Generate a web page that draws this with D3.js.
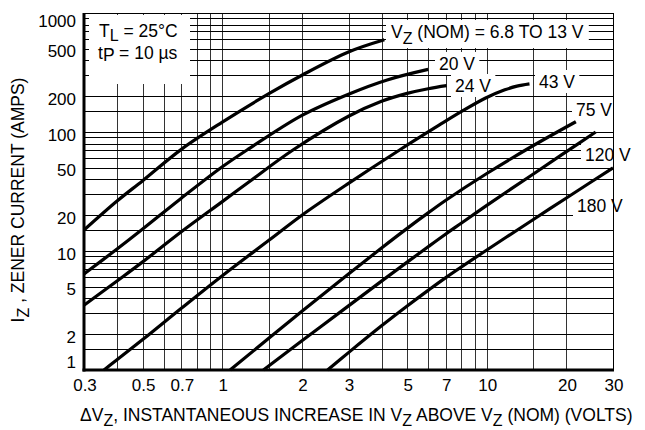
<!DOCTYPE html>
<html>
<head>
<meta charset="utf-8">
<script src="https://cdn.jsdelivr.net/npm/d3@7"></script>
<style>
  body { margin: 0; background: #fff; }
  text { font-family: "Liberation Sans", Arial, sans-serif; fill: #000; }
</style>
</head>
<body>
<script>
// tick labels and gridlines
var xTicks = [0.3, 0.5, 0.7, 1, 2, 3, 5, 7, 10, 20, 30];
var yTicks = [1, 2, 5, 10, 20, 50, 100, 200, 500, 1000];
var xGrid = [0.3, 0.4, 0.5, 0.6, 0.7, 0.8, 0.9, 1, 1.5, 2, 3, 4, 5, 6, 7, 8, 9, 10, 15, 20, 30];
var yGrid = [1, 1.5, 2, 3, 4, 5, 6, 7, 8, 9, 10, 15, 20, 30, 40, 50, 60, 70, 80, 90,
             100, 150, 200, 300, 400, 500, 600, 700, 800, 900, 1000];

// curves: delta Vz (volts) vs Iz (amps)
var dv_13 = [0.3, 0.4, 0.5, 0.7, 1, 1.5, 2, 3, 4.1];
var iz_13 = [15, 26.3, 39, 71.5, 121, 210, 300, 470, 595];
var dv_20 = [0.3, 0.4, 0.5, 0.7, 1, 1.24, 2, 3, 4.2, 6];
var iz_20 = [6.4, 10.4, 15.3, 27.8, 51, 70.6, 138, 208, 274, 336];
var dv_24 = [0.3, 0.4, 0.5, 0.7, 1, 1.26, 1.85, 3, 4, 5, 6, 7.05];
var iz_24 = [3.5, 5.6, 8.1, 14.5, 26, 38, 70.6, 135.6, 181, 211, 231, 245];
var dv_43 = [0.357, 0.5, 0.7, 1, 1.5, 2, 3, 4.68, 6.6, 8, 9.9, 11.7, 13, 14.5];
var iz_43 = [1, 1.8, 3.3, 6.2, 12.3, 20, 37, 70.6, 114, 148, 193, 226, 243, 254];
var dv_75 = [1.07, 2, 3, 4, 5, 6, 7, 10, 15, 21.7];
var iz_75 = [1, 3.12, 6.4, 10.6, 15.5, 20.9, 26.7, 44.8, 77, 122];
var dv_120 = [1.43, 2, 3, 4, 5, 6, 7, 8, 10, 15, 20, 25.8];
var iz_120 = [1, 1.76, 3.46, 5.58, 8.06, 10.85, 13.9, 17.1, 24.2, 44.4, 68.4, 100];
var dv_180 = [2.5, 3, 4, 5, 6, 7, 10, 15, 20, 30];
var iz_180 = [1, 1.4, 2.35, 3.45, 4.67, 5.98, 10.2, 18.4, 27.9, 50];

var curves = [
  {dv: dv_13, iz: iz_13},
  {dv: dv_20, iz: iz_20},
  {dv: dv_24, iz: iz_24},
  {dv: dv_43, iz: iz_43},
  {dv: dv_75, iz: iz_75},
  {dv: dv_120, iz: iz_120},
  {dv: dv_180, iz: iz_180}
];

var width = 645, height = 430;
var plot = {left: 84, right: 613, top: 13, bottom: 370};

var svg = d3.select("body").append("svg")
  .attr("width", width)
  .attr("height", height);

var x = d3.scaleLog().domain([0.3, 30]).range([plot.left, plot.right]);
var y = d3.scaleLog().domain([1, 1000]).range([plot.bottom, plot.top]);

// grid
var grid = svg.append("g").attr("shape-rendering", "crispEdges");
grid.selectAll(".vg").data(xGrid).enter().append("line")
  .attr("x1", d => Math.round(x(d)) + 0.5).attr("x2", d => Math.round(x(d)) + 0.5)
  .attr("y1", plot.top).attr("y2", plot.bottom)
  .attr("stroke", "#333").attr("stroke-width", 1);
grid.selectAll(".hg").data(yGrid).enter().append("line")
  .attr("x1", plot.left).attr("x2", plot.right)
  .attr("y1", d => Math.round(y(d)) + 0.5).attr("y2", d => Math.round(y(d)) + 0.5)
  .attr("stroke", "#000").attr("stroke-width", 1);

var boxes = svg.append("g");
var curveG = svg.append("g");
var labels = svg.append("g");

// conditions box
boxes.append("rect").attr("x", 89).attr("y", 15).attr("width", 101).attr("height", 69).attr("fill", "#fff");

function richText(parent, px, py, parts, size, anchor) {
  var t = parent.append("text")
    .attr("x", px).attr("y", py)
    .attr("font-size", size)
    .attr("text-anchor", anchor || "start");
  parts.forEach(function(p) {
    var s = t.append("tspan").text(p[0]);
    if (p[1]) s.attr("dy", p[1]);
    if (p[2]) s.attr("font-size", p[2]);
  });
  return t;
}

function boxed(px, py, parts, size, pad) {
  var t = richText(labels, px, py, parts, size);
  var b = t.node().getBBox();
  boxes.append("rect")
    .attr("x", b.x - pad).attr("y", b.y - 2)
    .attr("width", b.width + 2 * pad).attr("height", b.height + 3)
    .attr("fill", "#fff");
  return t;
}

richText(labels, 99, 37, [["T"], ["L", 4, 16], [" = 25°C", -4, 17.5]], 17.5);
richText(labels, 98, 59, [["t"], ["P", 2], [" = 10 µs", -2]], 17.5);

boxed(391, 38, [["V"], ["Z", 6, 16], [" (NOM) = 6.8 TO 13 V", -6, 17.5]], 17.5, 5);
boxed(439, 70, [["20 V"]], 17.5, 4);
boxed(455, 92, [["24 V"]], 17.5, 4);
boxed(539, 88, [["43 V"]], 17.5, 4);
boxed(576, 116, [["75 V"]], 17.5, 4);
boxed(585, 161, [["120 V"]], 17.5, 4);
boxed(577, 212, [["180 V"]], 17.5, 4);

// curves
var line = d3.line()
  .x(d => x(d[0]))
  .y(d => y(d[1]))
  .curve(d3.curveCatmullRom.alpha(0.5));

curveG.selectAll("path").data(curves).enter().append("path")
  .attr("d", c => line(c.dv.map((v, i) => [v, c.iz[i]])))
  .attr("fill", "none")
  .attr("stroke", "#000")
  .attr("stroke-width", 3.2)
  .attr("stroke-linecap", "butt");

// frame
svg.append("rect")
  .attr("x", plot.left + 0.5).attr("y", plot.top + 0.5)
  .attr("width", plot.right - plot.left).attr("height", plot.bottom - plot.top)
  .attr("fill", "none").attr("stroke", "#000").attr("stroke-width", 1)
  .attr("shape-rendering", "crispEdges");
svg.append("line")
  .attr("x1", plot.left).attr("x2", plot.left)
  .attr("y1", plot.top).attr("y2", plot.bottom + 1.5)
  .attr("stroke", "#000").attr("stroke-width", 3);
svg.append("line")
  .attr("x1", plot.left - 1.5).attr("x2", plot.right + 1)
  .attr("y1", plot.bottom).attr("y2", plot.bottom)
  .attr("stroke", "#000").attr("stroke-width", 3);

// tick labels
svg.append("g").selectAll("text").data(xTicks).enter().append("text")
  .attr("x", d => x(d) + 1)
  .attr("y", 391)
  .attr("text-anchor", "middle")
  .attr("font-size", 17)
  .text(d => d);

svg.append("g").selectAll("text").data(yTicks).enter().append("text")
  .attr("x", 76)
  .attr("y", (d, i) => {
    if (i === 0) return y(d) - 2;
    if (i === yTicks.length - 1) return y(d) + 14;
    return y(d) + 8.5;
  })
  .attr("text-anchor", "end")
  .attr("font-size", 17)
  .text(d => d);

// axis titles
richText(svg, 80, 421,
  [["ΔV"], ["Z", 5, 16], [", INSTANTANEOUS INCREASE IN V", -5, 17.5], ["Z", 5, 16],
   [" ABOVE V", -5, 17.5], ["Z", 5, 16], [" (NOM) (VOLTS)", -5, 17.5]], 17.5);

var yt = richText(svg, 0, 0,
  [["I"], ["Z", 5, 16], [" , ZENER CURRENT (AMPS)", -5, 17.5]], 17.5, "middle");
yt.attr("transform", "translate(24,200) rotate(-90)");
</script>
</body>
</html>
